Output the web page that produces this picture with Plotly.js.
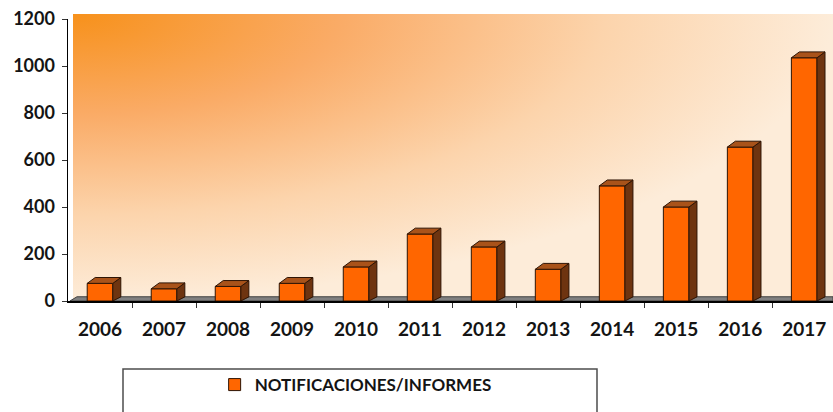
<!DOCTYPE html>
<html>
<head>
<meta charset="utf-8">
<script src="https://cdn.plot.ly/plotly-3.0.1.min.js"></script>
<style>
  html, body { margin: 0; padding: 0; background: #ffffff; }
  #chart { width: 833px; height: 412px; }
</style>
</head>
<body>
<div id="chart"></div>
<script>
// ---- data ----
const years = ['2006', '2007', '2008', '2009', '2010', '2011', '2012', '2013', '2014', '2015', '2016', '2017'];
const values = [75, 52, 62, 75, 145, 285, 230, 135, 490, 400, 655, 1035];
const seriesName = 'NOTIFICACIONES/INFORMES';
const yTicks = [0, 200, 400, 600, 800, 1000, 1200];

// ---- style constants ----
const BAR_W = 0.4;      // bar width in category units
const DX = 0.125;       // 3D depth offset (x, category units)
const DY = 25;          // 3D depth offset (y, value units)
const FONT = 'Lato, "Open Sans", sans-serif';

const idx = years.map((_, i) => i);

// side and top faces of the 3D bars, derived from the data
const sideX = [], sideY = [], topX = [], topY = [];
idx.forEach((i) => {
  const v = values[i];
  const l = i - BAR_W / 2, r = i + BAR_W / 2;
  sideX.push(r, r + DX, r + DX, r, r, null);
  sideY.push(0, DY * 0.7, v + DY, v, 0, null);
  topX.push(l, l + DX, r + DX, r, l, null);
  topY.push(v, v + DY, v + DY, v, v, null);
});

const outline = '#2e1404';

const traces = [
  {
    type: 'bar', x: idx, y: values, width: BAR_W, name: seriesName,
    marker: { color: '#FF6600', line: { color: outline, width: 1 } },
    hoverinfo: 'skip'
  },
  {
    type: 'scatter', mode: 'lines', x: sideX, y: sideY, fill: 'toself',
    fillcolor: '#6E3410', line: { color: outline, width: 1 },
    showlegend: false, hoverinfo: 'skip'
  },
  {
    type: 'scatter', mode: 'lines', x: topX, y: topY, fill: 'toself',
    fillcolor: '#A9531A', line: { color: outline, width: 1 },
    showlegend: false, hoverinfo: 'skip'
  }
];

const bgSvg = '<svg xmlns="http://www.w3.org/2000/svg" width="100" height="100" viewBox="0 0 100 100" preserveAspectRatio="none">' +
  '<defs><radialGradient id="g" cx="0" cy="0" r="1" gradientUnits="objectBoundingBox">' +
  '<stop offset="0" stop-color="#F7911B"/><stop offset="0.35" stop-color="#FAAB66"/>' +
  '<stop offset="0.7" stop-color="#FCD4AC"/><stop offset="1" stop-color="#FDECD9"/>' +
  '</radialGradient></defs><rect width="100" height="100" fill="url(#g)"/></svg>';

const boundaries = idx.slice(0, -1).map((i) => i + 0.5);

const layout = {
  width: 833, height: 412,
  margin: { l: 68, r: 0, t: 19, b: 111 },
  paper_bgcolor: '#ffffff',
  plot_bgcolor: 'rgba(0,0,0,0)',
  showlegend: true,
  bargap: 0,
  font: { family: FONT, color: '#1a1a1a' },
  xaxis: {
    range: [-0.5, 11.45], fixedrange: true,
    tickmode: 'array', tickvals: idx, ticktext: years, ticks: '',
    ticklabelstandoff: 11,
    tickfont: { family: FONT, size: 19, weight: 'bold', color: '#141414' },
    showline: true, linecolor: '#000000', linewidth: 1.5,
    showgrid: false, zeroline: false,
    minor: { tickmode: 'array', tickvals: boundaries, ticks: 'outside', ticklen: 5, tickcolor: '#333', tickwidth: 1, showgrid: false }
  },
  yaxis: {
    range: [0, 1200], fixedrange: true,
    tickmode: 'array', tickvals: yTicks,
    ticks: 'outside', ticklen: 5, tickcolor: '#333', tickwidth: 1,
    ticklabelstandoff: 3,
    tickfont: { family: FONT, size: 18, weight: 'bold', color: '#141414' },
    showline: true, linecolor: '#000000', linewidth: 1.5,
    showgrid: false, zeroline: false
  },
  images: [{
    source: 'data:image/svg+xml;charset=utf-8,' + encodeURIComponent(bgSvg),
    xref: 'paper', yref: 'paper', x: 0.0065, y: 1.018, sizex: 0.9935, sizey: 1.018,
    xanchor: 'left', yanchor: 'top', sizing: 'stretch', layer: 'below'
  }],
  shapes: [
    {
      type: 'path', xref: 'x', yref: 'y', layer: 'below',
      path: 'M -0.47 0 L 11.45 0 L 11.45 18 L -0.36 18 Z',
      fillcolor: '#808080', line: { color: '#404040', width: 1 }
    },
    {
      type: 'rect', xref: 'paper', yref: 'paper',
      x0: 0.0719, x1: 0.6915, y0: -0.241, y1: -0.5,
      fillcolor: '#ffffff', line: { color: '#4d4d4d', width: 1.5 }, layer: 'below'
    }
  ],
  legend: {
    orientation: 'h', x: 0.376, y: -0.298, xanchor: 'center', yanchor: 'middle',
    bgcolor: 'rgba(0,0,0,0)', borderwidth: 0,
    font: { family: FONT, size: 17, weight: 'bold', color: '#141414' },
    itemwidth: 30
  }
};

Plotly.newPlot('chart', traces, layout, { staticPlot: true, displayModeBar: false });
</script>
</body>
</html>
